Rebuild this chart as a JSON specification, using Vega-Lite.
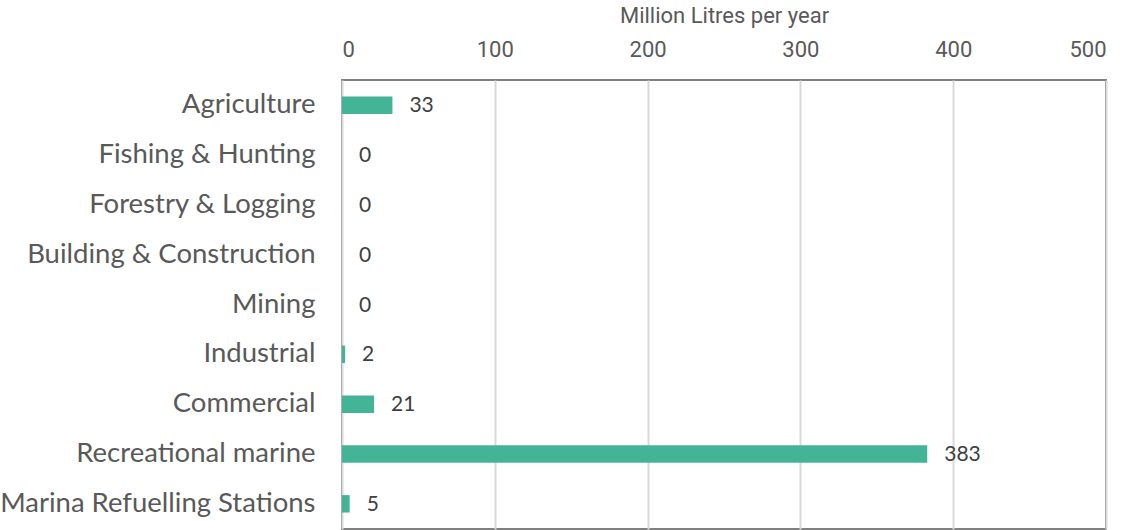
{
  "$schema": "https://vega.github.io/schema/vega-lite/v6.json",
  "autosize": {"type": "none"},
  "padding": {"left": 342, "top": 80, "right": 18, "bottom": 1},
  "width": 764,
  "height": 449,
  "background": "white",
  "data": {"values": [
    {"category": "Agriculture", "value": 33},
    {"category": "Fishing & Hunting", "value": 0},
    {"category": "Forestry & Logging", "value": 0},
    {"category": "Building & Construction", "value": 0},
    {"category": "Mining", "value": 0},
    {"category": "Industrial", "value": 2},
    {"category": "Commercial", "value": 21},
    {"category": "Recreational marine", "value": 383},
    {"category": "Marina Refuelling Stations", "value": 5}
  ]},
  "config": {
    "view": {"stroke": "#808080", "strokeWidth": 2}
  },
  "encoding": {
    "y": {"field": "category", "type": "nominal", "sort": null,
      "scale": {"paddingInner": 0.65, "paddingOuter": 0.33},
      "axis": {"title": null, "domain": false, "ticks": false, "labelFont": "Lato", "labelFontSize": 27.5, "labelColor": "#595959", "labelPadding": 27, "labelLimit": 400}},
    "x": {"field": "value", "type": "quantitative",
      "scale": {"domain": [0, 500], "nice": false},
      "axis": {"orient": "top", "values": [0, 100, 200, 300, 400, 500], "title": "Million Litres per year", "titleFont": "Roboto", "titleFontSize": 22, "titleFontWeight": "normal", "titleColor": "#595959", "titlePadding": 11, "labelFont": "Roboto", "labelFontSize": 22, "labelColor": "#595959", "labelPadding": 19, "domain": false, "ticks": false, "gridColor": "#d9d9d9", "gridWidth": 2}}
  },
  "layer": [
    {"mark": {"type": "bar", "color": "#43b495"}},
    {"mark": {"type": "text", "align": "left", "dx": 17, "font": "Lato", "fontSize": 21, "color": "#404040", "baseline": "middle", "dy": 1},
     "encoding": {"text": {"field": "value", "type": "quantitative"}}}
  ]
}
